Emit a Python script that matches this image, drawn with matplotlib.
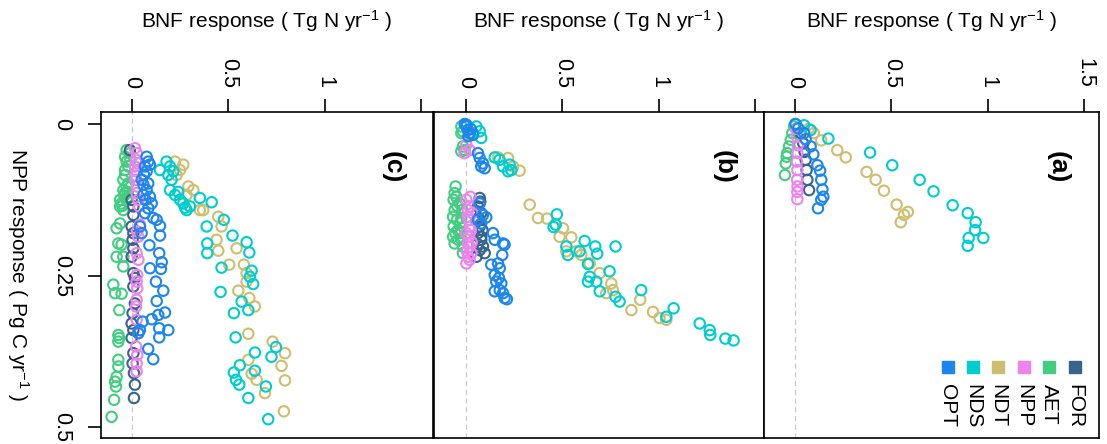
import matplotlib
matplotlib.use("Agg")
import matplotlib.pyplot as plt

plt.rcParams['font.family'] = ['Liberation Sans', 'DejaVu Sans']
plt.rcParams['mathtext.fontset'] = 'custom'
plt.rcParams['mathtext.rm'] = 'Liberation Sans'
plt.rcParams['mathtext.it'] = 'Liberation Sans:italic'
plt.rcParams['mathtext.bf'] = 'Liberation Sans:bold'

# ---- schemes ----
schemes = ['OPT', 'NDS', 'NDT', 'NPP', 'AET', 'FOR']
scheme_colors = ['#1C86EE', '#00CDCD', '#CDBE70', '#EE82EE', '#43CD80', '#36648B']
draw_order = ['AET', 'FOR', 'NPP', 'NDT', 'NDS', 'OPT']

# ---- panel (a): BNF response vs NPP response ----
a_opt_bnf = [0.003, 0.017, 0.047, 0.055, 0.081, 0.095, 0.116, 0.130, 0.136, 0.142, 0.147, 0.136, 0.119]
a_opt_npp = [0.000, 0.007, 0.015, 0.025, 0.037, 0.050, 0.068, 0.077, 0.092, 0.108, 0.120, 0.125, 0.139]
a_nds_bnf = [0.047, 0.081, 0.173, 0.389, 0.504, 0.646, 0.718, 0.817, 0.895, 0.936, 0.933, 0.976, 0.900, 0.895]
a_nds_npp = [0.002, 0.010, 0.024, 0.047, 0.068, 0.092, 0.111, 0.134, 0.147, 0.162, 0.175, 0.188, 0.188, 0.201]
a_ndt_bnf = [0.070, 0.098, 0.136, 0.219, 0.263, 0.371, 0.418, 0.461, 0.527, 0.585, 0.565, 0.548]
a_ndt_npp = [0.008, 0.015, 0.027, 0.043, 0.055, 0.079, 0.092, 0.110, 0.133, 0.145, 0.150, 0.162]
a_npp_bnf = [0.005, 0.010, 0.014, 0.012, 0.010, 0.012, 0.011, 0.013, 0.012, 0.012]
a_npp_npp = [0.008, 0.021, 0.035, 0.048, 0.062, 0.076, 0.092, 0.103, 0.112, 0.124]
a_aet_bnf = [0.000, -0.005, -0.014, -0.022, -0.031, -0.040, -0.043, -0.048, -0.052]
a_aet_npp = [0.000, 0.004, 0.015, 0.026, 0.037, 0.048, 0.054, 0.065, 0.084]
a_for_bnf = [0.029, 0.043, 0.050, 0.055, 0.060, 0.064, 0.073]
a_for_npp = [0.015, 0.032, 0.046, 0.059, 0.076, 0.092, 0.109]

# ---- panel (b) ----
b_opt_bnf = [-0.007, 0.002, 0.010, 0.019, 0.036, 0.002, 0.025, 0.012, 0.062, 0.071, 0.088, 0.097, 0.079,
             0.071, 0.088, 0.105, 0.079, 0.062, 0.140, 0.149, 0.192, 0.200, 0.188,
             0.131, 0.166, 0.175, 0.149, 0.171, 0.157, 0.183, 0.149, 0.175, 0.192, 0.200, 0.212]
b_opt_npp = [0.000, 0.004, 0.010, 0.015, 0.018, 0.001, 0.008, 0.020, 0.048, 0.056, 0.065, 0.073, 0.070,
             0.131, 0.150, 0.154, 0.164, 0.158, 0.180, 0.191, 0.197, 0.199, 0.216,
             0.232, 0.230, 0.238, 0.249, 0.254, 0.260, 0.263, 0.276, 0.274, 0.279, 0.287, 0.289]
b_nds_bnf = [0.054, 0.071, 0.079, 0.036, 0.149, 0.174, 0.192, 0.226, 0.235, 0.218,
             0.471, 0.465, 0.454, 0.615, 0.670, 0.775, 0.680, 0.520, 0.528, 0.589,
             0.632, 0.744, 0.641, 0.675, 0.632, 0.693, 0.775, 0.796, 0.908, 1.038,
             1.076, 1.211, 1.263, 1.266, 1.344, 1.387]
b_nds_npp = [0.004, 0.012, 0.023, 0.015, 0.055, 0.059, 0.070, 0.067, 0.076, 0.078,
             0.149, 0.166, 0.170, 0.193, 0.202, 0.202, 0.214, 0.202, 0.216, 0.210,
             0.231, 0.243, 0.252, 0.260, 0.260, 0.276, 0.285, 0.293, 0.274, 0.318,
             0.304, 0.329, 0.340, 0.348, 0.354, 0.357]
b_ndt_bnf = [0.166, 0.218, 0.244, 0.278, 0.330, 0.373, 0.420, 0.503, 0.546, 0.485, 0.520,
             0.572, 0.598, 0.641, 0.693, 0.753, 0.727, 0.762, 0.857, 0.903, 0.969, 1.003, 1.038]
b_ndt_npp = [0.055, 0.056, 0.070, 0.077, 0.133, 0.155, 0.156, 0.172, 0.187, 0.186, 0.210,
             0.210, 0.216, 0.230, 0.246, 0.263, 0.279, 0.274, 0.307, 0.290, 0.310, 0.320, 0.323]
b_npp_bnf = [0.002, 0.019, -0.007, 0.022, 0.019, 0.010, 0.022, 0.016, 0.019, 0.010, 0.002,
             0.028, 0.033, 0.002, 0.010, 0.016, 0.002, 0.010, 0.019, 0.025, 0.030, 0.005]
b_npp_npp = [0.034, 0.043, 0.048, 0.120, 0.136, 0.153, 0.169, 0.186, 0.202, 0.219, 0.230,
             0.213, 0.147, 0.125, 0.142, 0.158, 0.180, 0.197, 0.224, 0.175, 0.195, 0.210]
b_aet_bnf = [-0.024, -0.016, -0.024, -0.016, -0.007, -0.024, -0.054, -0.059, -0.064, -0.050,
             -0.033, -0.059, -0.067, -0.047, -0.024, -0.064, -0.041, -0.067, -0.041, -0.059,
             -0.016, -0.016, -0.033, -0.019, -0.030, -0.045, -0.025, -0.055]
b_aet_npp = [0.004, 0.012, 0.015, 0.037, 0.043, 0.045, 0.103, 0.114, 0.125, 0.120,
             0.131, 0.142, 0.153, 0.158, 0.155, 0.169, 0.175, 0.186, 0.191, 0.197,
             0.202, 0.213, 0.180, 0.142, 0.163, 0.135, 0.190, 0.180]
b_for_bnf = [0.071, 0.062, 0.079, 0.071, 0.079, 0.088, 0.071, 0.097, 0.054, 0.079, 0.062,
             0.055, 0.066, 0.085, 0.060, 0.074]
b_for_npp = [0.122, 0.136, 0.147, 0.169, 0.186, 0.202, 0.208, 0.213, 0.219, 0.191, 0.180,
             0.160, 0.155, 0.175, 0.198, 0.128]

# ---- panel (c) ----
c_opt_bnf = [0.076, 0.084, 0.067, 0.093, 0.076, 0.050, 0.059, 0.084, 0.076, 0.059, 0.093,
             0.102, 0.084, 0.067, 0.110, 0.128, 0.145, 0.145, 0.090, 0.141, 0.154, 0.093,
             0.150, 0.124, 0.162, 0.128, 0.171, 0.136, 0.102, 0.055, 0.041, 0.141, 0.188,
             0.141, 0.033, 0.084, 0.110, 0.041, 0.050, 0.070, 0.062]
c_opt_npp = [0.054, 0.062, 0.070, 0.067, 0.078, 0.092, 0.100, 0.098, 0.109, 0.117, 0.120,
             0.131, 0.139, 0.147, 0.155, 0.158, 0.168, 0.184, 0.200, 0.213, 0.228, 0.238,
             0.239, 0.260, 0.275, 0.292, 0.311, 0.315, 0.322, 0.326, 0.340, 0.337, 0.340,
             0.352, 0.345, 0.371, 0.388, 0.169, 0.180, 0.125, 0.084]
c_nds_bnf = [0.145, 0.179, 0.197, 0.214, 0.188, 0.205, 0.197, 0.223, 0.249, 0.266, 0.283,
             0.300, 0.352, 0.413, 0.387, 0.476, 0.521, 0.594, 0.390, 0.390, 0.608, 0.464,
             0.620, 0.611, 0.628, 0.459, 0.568, 0.528, 0.603, 0.537, 0.637, 0.746, 0.723,
             0.559, 0.528, 0.637, 0.539, 0.556, 0.694, 0.603, 0.706, 0.240, 0.275]
c_nds_npp = [0.076, 0.062, 0.070, 0.078, 0.084, 0.092, 0.109, 0.117, 0.125, 0.131, 0.142,
             0.136, 0.122, 0.129, 0.169, 0.158, 0.184, 0.195, 0.197, 0.213, 0.212, 0.237,
             0.242, 0.252, 0.264, 0.277, 0.293, 0.312, 0.307, 0.352, 0.377, 0.368, 0.384,
             0.398, 0.410, 0.407, 0.422, 0.430, 0.433, 0.452, 0.487, 0.112, 0.138]
c_ndt_bnf = [0.223, 0.249, 0.266, 0.231, 0.292, 0.318, 0.283, 0.352, 0.369, 0.447, 0.464,
             0.438, 0.447, 0.542, 0.504, 0.580, 0.594, 0.594, 0.551, 0.608, 0.637, 0.603,
             0.729, 0.793, 0.775, 0.603, 0.646, 0.620, 0.793, 0.689, 0.787]
c_ndt_npp = [0.062, 0.076, 0.067, 0.084, 0.103, 0.109, 0.117, 0.142, 0.142, 0.153, 0.169,
             0.191, 0.209, 0.205, 0.232, 0.232, 0.246, 0.260, 0.275, 0.287, 0.301, 0.346,
             0.359, 0.378, 0.399, 0.389, 0.422, 0.412, 0.423, 0.444, 0.474]
c_npp_bnf = [0.015, 0.024, 0.021, 0.015, 0.024, 0.021, 0.027, 0.024, 0.033, 0.038, 0.041,
             0.027, 0.033, 0.024, 0.033, 0.027, 0.024, 0.027, 0.024, 0.021, 0.024, 0.033,
             0.021, 0.027, 0.024, 0.024, 0.018, 0.030]
c_npp_npp = [0.040, 0.048, 0.059, 0.070, 0.078, 0.092, 0.103, 0.114, 0.125, 0.136, 0.166,
             0.177, 0.186, 0.213, 0.224, 0.249, 0.260, 0.271, 0.290, 0.301, 0.323, 0.345,
             0.367, 0.381, 0.395, 0.408, 0.085, 0.065]
c_aet_bnf = [-0.028, -0.011, -0.036, -0.028, -0.019, -0.036, -0.045, -0.028, -0.036, -0.019,
             -0.054, -0.062, -0.045, -0.045, -0.062, -0.028, -0.019, -0.036, -0.008,
             -0.080, -0.062, -0.071, -0.054, -0.080, -0.045, -0.045, -0.097, -0.088, -0.054,
             -0.066, -0.071, -0.066, -0.071, -0.071, -0.071, -0.080, -0.088, -0.083, -0.093, -0.106,
             -0.040, -0.022, -0.050]
c_aet_npp = [0.043, 0.048, 0.054, 0.062, 0.070, 0.076, 0.092, 0.103, 0.114, 0.120,
             0.131, 0.136, 0.142, 0.109, 0.125, 0.125, 0.098, 0.084, 0.059,
             0.172, 0.164, 0.197, 0.199, 0.219, 0.219, 0.235, 0.265, 0.279, 0.280,
             0.307, 0.348, 0.353, 0.359, 0.389, 0.400, 0.417, 0.425, 0.433, 0.455, 0.483,
             0.118, 0.112, 0.135]
c_for_bnf = [-0.011, -0.002, 0.007, 0.007, -0.002, 0.007, 0.003, 0.007, -0.002, 0.007, 0.015,
             0.007, 0.015, 0.003, -0.002, 0.007, -0.002, 0.007, 0.003, 0.010, 0.015, 0.010]
c_for_npp = [0.043, 0.125, 0.136, 0.150, 0.169, 0.180, 0.191, 0.205, 0.219, 0.246, 0.254,
             0.268, 0.296, 0.312, 0.329, 0.340, 0.353, 0.378, 0.395, 0.411, 0.430, 0.452]

panel_data = {
    'a': {'OPT': (a_opt_bnf, a_opt_npp), 'NDS': (a_nds_bnf, a_nds_npp), 'NDT': (a_ndt_bnf, a_ndt_npp),
          'NPP': (a_npp_bnf, a_npp_npp), 'AET': (a_aet_bnf, a_aet_npp), 'FOR': (a_for_bnf, a_for_npp)},
    'b': {'OPT': (b_opt_bnf, b_opt_npp), 'NDS': (b_nds_bnf, b_nds_npp), 'NDT': (b_ndt_bnf, b_ndt_npp),
          'NPP': (b_npp_bnf, b_npp_npp), 'AET': (b_aet_bnf, b_aet_npp), 'FOR': (b_for_bnf, b_for_npp)},
    'c': {'OPT': (c_opt_bnf, c_opt_npp), 'NDS': (c_nds_bnf, c_nds_npp), 'NDT': (c_ndt_bnf, c_ndt_npp),
          'NPP': (c_npp_bnf, c_npp_npp), 'AET': (c_aet_bnf, c_aet_npp), 'FOR': (c_for_bnf, c_for_npp)},
}

bnf_ticks = [0, 0.5, 1, 1.5]
npp_ticks = [0, 0.25, 0.5]
npp_tick_labels = ['0', '0.25', '0.5']
bnf_title = 'BNF response ( Tg N yr$^{-1}$ )'
npp_title = 'NPP response ( Pg C yr$^{-1}$ )'

color_of = dict(zip(schemes, scheme_colors))

fig = plt.figure(figsize=(11.07, 4.44), dpi=100)

# panel order left to right: (c), (b), (a)
layout = [
    ('c', [0.0912, 0.0135, 0.2999, 0.7342], (-0.161, 1.560), ['0', '0.5', '1', '']),
    ('b', [0.3920, 0.0135, 0.2981, 0.7342], (-0.166, 1.544), ['0', '0.5', '1', '']),
    ('a', [0.6901, 0.0135, 0.3026, 0.7342], (-0.161, 1.575), ['0', '0.5', '1', '1.5']),
]

for key, rect, xlim, xlabels in layout:
    ax = fig.add_axes(rect)
    ax.axvline(0, color='#c8c8c8', lw=0.9, ls=(0, (4, 3)), zorder=1)
    for name in draw_order:
        xs, ys = panel_data[key][name]
        ax.scatter(xs, ys, s=56, facecolors='none', edgecolors=color_of[name],
                   linewidths=1.5, zorder=3)
    ax.set_xlim(*xlim)
    ax.set_ylim(0.518, -0.0198)
    for sp in ax.spines.values():
        sp.set_linewidth(1.2)
        sp.set_color('black')
    ax.xaxis.tick_top()
    ax.set_xticks(bnf_ticks)
    ax.set_xticklabels(xlabels)
    ax.tick_params(axis='x', direction='out', length=9.5, width=1.2, labelsize=15.5,
                   pad=8, labelrotation=-90)
    if key == 'c':
        ax.set_yticks(npp_ticks)
        ax.set_yticklabels(npp_tick_labels)
        ax.tick_params(axis='y', direction='out', length=9.5, width=1.2, labelsize=15.5,
                       pad=19, labelrotation=-90)
        for lab in ax.get_yticklabels():
            lab.set_verticalalignment('center')
            lab.set_horizontalalignment('center')
    else:
        ax.set_yticks([])
    ax.text(0.878, 0.831, '(%s)' % key, transform=ax.transAxes, rotation=-90,
            fontsize=19, fontweight='bold', ha='center', va='center')
    cx = rect[0] + rect[2] / 2
    fig.text(cx, 0.953, bnf_title, ha='center', va='center', fontsize=15)

    if key == 'a':
        leg_x = [0.549, 0.624, 0.699, 0.776, 0.851, 0.928]
        for xpos, name in zip(leg_x, schemes):
            ax.plot([xpos], [0.218], marker='s', markersize=9.3, color=color_of[name],
                    transform=ax.transAxes, clip_on=False, zorder=4)
            ax.text(xpos, 0.165, name, transform=ax.transAxes, rotation=-90,
                    fontsize=15, ha='center', va='top')

fig.text(0.016, 0.381, npp_title, rotation=-90, ha='center', va='center', fontsize=15)

fig.savefig('out.png', dpi=100)
